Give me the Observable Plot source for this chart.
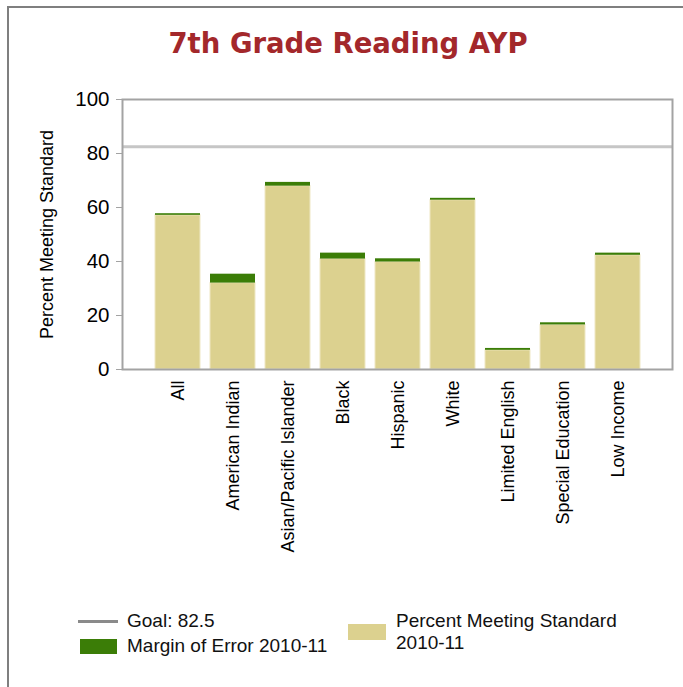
<!DOCTYPE html>
<html>
<head>
<meta charset="utf-8">
<script src="https://cdn.jsdelivr.net/npm/d3@7"></script>
<script src="https://cdn.jsdelivr.net/npm/@observablehq/plot@0.6"></script>
<style>
  html, body { margin: 0; padding: 0; background: #fff; }
  #wrap { position: relative; width: 683px; height: 687px; overflow: hidden; background: #fff; }
  #border { position: absolute; left: 7px; top: 6px; width: 700px; height: 700px;
            border-left: 2px solid #7f7f7f; border-top: 2px solid #7f7f7f; }
  #title { position: absolute; left: 0; top: 30px; width: 696px; text-align: center;
           font-family: "DejaVu Sans", Verdana, sans-serif; font-weight: bold; font-size: 27.5px;
           line-height: 27px; color: #a3282b; }
  #chart { position: absolute; left: 0; top: 80px; }
  .leg { position: absolute; font-family: "Liberation Sans", Arial, sans-serif; font-size: 19px;
         line-height: 22px; color: #111; white-space: nowrap; }
  .sw { position: absolute; }
</style>
</head>
<body>
<div id="wrap">
  <div id="border"></div>
  <div id="title"></div>
  <div id="chart"></div>
  <div id="legend"></div>
</div>
<script>
const titleText = "7th Grade Reading AYP";
const categories = ["All", "American Indian", "Asian/Pacific Islander", "Black", "Hispanic", "White", "Limited English", "Special Education", "Low Income"];
const percentMeeting = [57.1, 32.0, 67.9, 40.9, 39.8, 62.7, 7.1, 16.5, 42.3];
const marginOfError = [0.6, 3.3, 1.4, 2.2, 1.2, 0.7, 0.7, 0.8, 0.8];
const goal = 82.5;
const yTicks = [0, 20, 40, 60, 80, 100];
const yLabel = "Percent Meeting Standard";
const legendGoal = "Goal: 82.5";
const legendMoe = "Margin of Error 2010-11";
const legendPct = ["Percent Meeting Standard", "2010-11"];

const tan = "#dcd18f";
const green = "#3b7d07";

const rows = categories.map((c, i) => ({category: c, pct: percentMeeting[i], moe: marginOfError[i]}));

document.getElementById("title").textContent = titleText;

const chart = Plot.plot({
  width: 683,
  height: 500,
  marginTop: 19,
  marginBottom: 211,
  marginLeft: 122,
  marginRight: 11,
  style: {fontFamily: "Liberation Sans, Arial, sans-serif", fontSize: "18px", background: "transparent", color: "#000"},
  x: {domain: categories, paddingInner: 0.182, paddingOuter: 0.591},
  y: {domain: [0, 100]},
  marks: [
    Plot.ruleY([goal], {stroke: "#c6c6c6", strokeWidth: 3}),
    Plot.barY(rows, {x: "category", y: "pct", fill: tan, stroke: "#efe8c4", strokeWidth: 1}),
    Plot.barY(rows, {x: "category", y1: "pct", y2: d => d.pct + d.moe, fill: green}),
    Plot.frame({stroke: "#a3a3a3", strokeWidth: 2}),
    Plot.axisY(yTicks, {tickSize: 6, tickPadding: 7, fontSize: 20.5, stroke: "#a3a3a3", fill: "#000", label: null, tickFormat: d => String(d)}),
    Plot.axisX({tickSize: 0, tickPadding: 11, tickRotate: -90, fontSize: 18, fill: "#000", label: null}),
    Plot.text([yLabel], {frameAnchor: "left", rotate: -90, dx: -75, textAnchor: "middle", lineAnchor: "middle", fontSize: 18, fill: "#000", text: d => d})
  ]
});
document.getElementById("chart").appendChild(chart);

// Legend
const legend = document.getElementById("legend");
function add(html) { legend.insertAdjacentHTML("beforeend", html); }
add(`<div class="sw" style="left:78px;top:620px;width:40px;height:3px;background:#8a8a8a"></div>`);
add(`<div class="leg" style="left:127px;top:610px">${legendGoal}</div>`);
add(`<div class="sw" style="left:80px;top:639px;width:37px;height:15px;background:${green}"></div>`);
add(`<div class="leg" style="left:127px;top:635px">${legendMoe}</div>`);
add(`<div class="sw" style="left:348px;top:624px;width:38px;height:16px;background:${tan}"></div>`);
add(`<div class="leg" style="left:396px;top:610px">${legendPct[0]}<br>${legendPct[1]}</div>`);
</script>
</body>
</html>
